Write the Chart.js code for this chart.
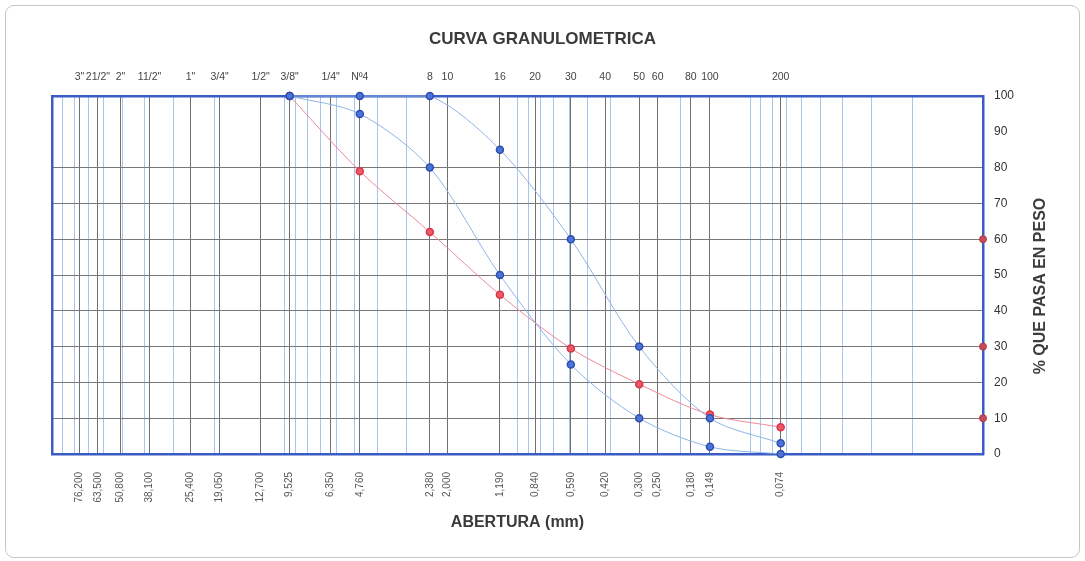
<!DOCTYPE html>
<html>
<head>
<meta charset="utf-8">
<script src="https://cdn.jsdelivr.net/npm/chart.js@4.4.1/dist/chart.umd.min.js"></script>
<style>
  html, body { margin: 0; padding: 0; background: #fff; }
  #wrap { position: relative; width: 1085px; height: 561px; background: #fff; }
  #frame { position: absolute; left: 5px; top: 5px; width: 1073px; height: 551px;
           border: 1px solid #c6c6c6; border-radius: 9px; pointer-events: none; }
</style>
</head>
<body>
<div id="wrap">
  <canvas id="chart-granulometria" width="1085" height="561"></canvas>
  <div id="frame"></div>
</div>
<script>
/* Curva granulometrica — % que pasa vs abertura (mm), escala log invertida */

// ─── TAMICES ────────────────────────────────────────────
var sieveNames = ['3"', '21/2"', '2"', '11/2"', '1"', '3/4"', '1/2"', '3/8"', '1/4"', 'Nº4',
  '8', '10', '16', '20', '30', '40', '50', '60', '80', '100', '200'];
var sieveMm = [76.2, 63.5, 50.8, 38.1, 25.4, 19.05, 12.7, 9.525, 6.35, 4.76,
  2.38, 2.0, 1.19, 0.84, 0.59, 0.42, 0.30, 0.25, 0.18, 0.149, 0.074];
var sieveMmLabels = ['76,200', '63,500', '50,800', '38,100', '25,400', '19,050', '12,700', '9,525', '6,350', '4,760',
  '2,380', '2,000', '1,190', '0,840', '0,590', '0,420', '0,300', '0,250', '0,180', '0,149', '0,074'];

// light blue log grid lines
var minorMm = [90, 80, 70, 60, 50, 40, 30, 20, 10, 9, 8, 7, 6, 5, 4, 3, 2, 1,
  0.9, 0.8, 0.7, 0.6, 0.5, 0.4, 0.3, 0.2, 0.1, 0.09, 0.08, 0.07, 0.06, 0.05, 0.04, 0.03, 0.02];

// ─── CURVAS ─────────────────────────────────────────────
var curveMm = [9.525, 4.76, 2.38, 1.19, 0.59, 0.30, 0.149, 0.074];
var upperBlue = [100, 100, 100, 85, 60, 30, 10, 3];
var lowerBlue = [100, 95, 80, 50, 25, 10, 2, 0];
var redCurve = [100, 79, 62, 44.5, 29.5, 19.5, 11, 7.5];

// D60 / D30 / D10 marks on the right edge
var dMarkMm = [0.01, 0.01, 0.01];
var dMarkPct = [60, 30, 10];

var FONT = '"Liberation Sans", Arial, sans-serif';
var BORDER_BLUE = '#3a5cc4';

function toPoints(xs, ys) {
  return xs.map(function(x, i) { return { x: x, y: ys[i] }; });
}

// sieve lines + the log lines that don't sit on a sieve
var allBottomTicks = sieveMm.concat(minorMm.filter(function(v) {
  return sieveMm.indexOf(v) < 0;
}));

var rightTitlePlugin = {
  id: 'rightTitle',
  afterDraw: function(chart) {
    var ctx = chart.ctx, area = chart.chartArea;
    ctx.save();
    ctx.translate(area.right + 58, (area.top + area.bottom) / 2 + 11);
    ctx.rotate(-Math.PI / 2);
    ctx.font = 'bold 16px ' + FONT;
    ctx.fillStyle = '#3c3c3c';
    ctx.textAlign = 'center';
    ctx.textBaseline = 'middle';
    ctx.fillText('% QUE PASA EN PESO', 0, 0);
    ctx.restore();
  }
};

var logAxisBase = {
  type: 'logarithmic',
  reverse: true,
  min: 0.01,
  max: 100
};

new Chart(document.getElementById('chart-granulometria'), {
  type: 'scatter',
  data: {
    datasets: [
      {
        label: 'Limite superior',
        data: toPoints(curveMm, upperBlue),
        showLine: true,
        tension: 0.3,
        borderColor: '#8fb4e6',
        borderWidth: 1,
        pointBackgroundColor: '#4c74d6',
        pointBorderColor: '#2c4eb0',
        pointBorderWidth: 1.5,
        pointRadius: 3.5,
        clip: false
      },
      {
        label: 'Limite inferior',
        data: toPoints(curveMm, lowerBlue),
        showLine: true,
        tension: 0.3,
        borderColor: '#8fb4e6',
        borderWidth: 1,
        pointBackgroundColor: '#4c74d6',
        pointBorderColor: '#2c4eb0',
        pointBorderWidth: 1.5,
        pointRadius: 3.5,
        clip: false
      },
      {
        label: 'Muestra',
        data: toPoints(curveMm, redCurve),
        showLine: true,
        tension: 0.3,
        borderColor: '#ee8a98',
        borderWidth: 1,
        pointBackgroundColor: '#ec5a68',
        pointBorderColor: '#d8344a',
        pointBorderWidth: 1.5,
        pointRadius: 3.5,
        clip: false
      },
      {
        label: 'D60 / D30 / D10',
        data: toPoints(dMarkMm, dMarkPct),
        showLine: false,
        pointBackgroundColor: '#c84a58',
        pointBorderColor: '#b03a48',
        pointBorderWidth: 1,
        pointRadius: 3.5,
        clip: false
      }
    ]
  },
  options: {
    responsive: false,
    animation: false,
    layout: { padding: 0 },
    plugins: {
      legend: { display: false },
      tooltip: { enabled: false },
      title: {
        display: true,
        text: 'CURVA GRANULOMETRICA',
        color: '#3a3a3a',
        font: { family: FONT, size: 17, weight: 'bold', lineHeight: 1.2 },
        padding: { top: 29, bottom: 8 }
      }
    },
    scales: {
      x: Object.assign({}, logAxisBase, {
        position: 'bottom',
        afterBuildTicks: function(scale) {
          scale.ticks = allBottomTicks.map(function(v) { return { value: v }; });
        },
        afterFit: function(scale) { scale.height = 107; },
        ticks: {
          autoSkip: false,
          minRotation: 90,
          maxRotation: 90,
          padding: 18,
          color: '#555',
          font: { family: FONT, size: 10 },
          callback: function(value) {
            var i = sieveMm.indexOf(value);
            return i >= 0 ? sieveMmLabels[i] : '';
          }
        },
        grid: {
          drawTicks: false,
          lineWidth: 1,
          color: function(c) {
            if (!c.tick) return 'rgba(0,0,0,0)';
            return sieveMm.indexOf(c.tick.value) >= 0 ? '#707070' : '#a6c6ee';
          }
        },
        border: { display: true, color: BORDER_BLUE, width: 2.5 },
        title: {
          display: true,
          text: 'ABERTURA (mm)',
          color: '#3a3a3a',
          font: { family: FONT, size: 16, weight: 'bold', lineHeight: 1.2 },
          padding: { top: 0, bottom: 29 }
        }
      }),
      xTop: Object.assign({}, logAxisBase, {
        position: 'top',
        afterBuildTicks: function(scale) {
          scale.ticks = sieveMm.map(function(v) { return { value: v }; });
        },
        afterFit: function(scale) { scale.height = 38.6; },
        ticks: {
          autoSkip: false,
          maxRotation: 0,
          minRotation: 0,
          padding: 13,
          color: '#444',
          font: { family: FONT, size: 10.5 },
          callback: function(value, index) { return sieveNames[index]; }
        },
        grid: { display: false, drawTicks: false },
        border: { display: true, color: BORDER_BLUE, width: 2.5 }
      }),
      y: {
        position: 'right',
        min: 0,
        max: 100,
        afterFit: function(scale) { scale.width = 102; },
        ticks: {
          stepSize: 10,
          padding: 11,
          color: '#333',
          font: { family: FONT, size: 12 }
        },
        grid: {
          drawTicks: false,
          color: function(c) {
            if (!c.tick) return 'rgba(0,0,0,0)';
            var v = c.tick.value;
            return (v === 90 || v === 0 || v === 100) ? 'rgba(0,0,0,0)' : '#787878';
          }
        },
        border: { display: true, color: BORDER_BLUE, width: 2.5 }
      },
      yLeft: {
        position: 'left',
        min: 0,
        max: 100,
        afterFit: function(scale) { scale.width = 52; },
        ticks: { display: false },
        grid: { display: false, drawTicks: false },
        border: { display: true, color: BORDER_BLUE, width: 2.5 }
      }
    }
  },
  plugins: [rightTitlePlugin]
});
</script>
</body>
</html>
